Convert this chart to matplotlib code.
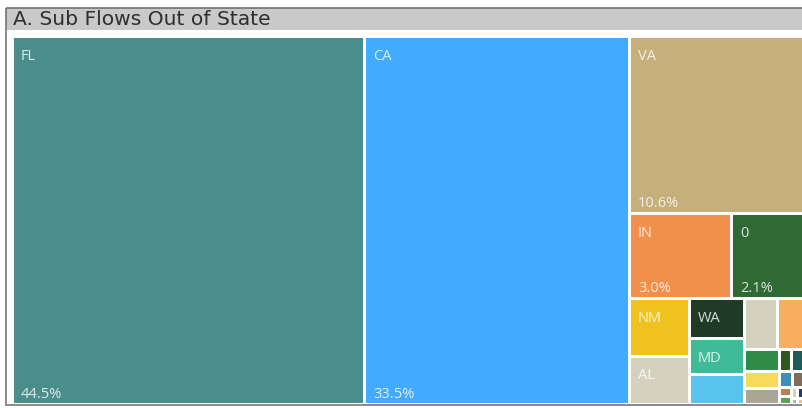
import matplotlib
matplotlib.use("Agg")
import matplotlib.pyplot as plt
from matplotlib.patches import Rectangle

# ---- data (share of sub flows out of state, %) ----
states = ["FL", "CA", "VA", "IN", "0", "NM", "AL", "WA", "MD",
          "", "", "", "", "", "", "", "", "", "",
          "", "", "", "", "", ""]
shares = [44.5, 33.5, 10.6, 3.0, 2.1, 1.18, 1.0, 0.76, 0.68,
          0.58, 0.56, 0.46, 0.27, 0.20, 0.19, 0.09, 0.09, 0.07, 0.06,
          0.035, 0.03, 0.025, 0.02, 0.015, 0.012]
colors = ["#4a8e8c", "#42aaff", "#c5b07b", "#f0904b", "#2f6a35", "#efc21f",
          "#d5d1bf", "#1f3b25", "#40bb97", "#58c4ee", "#d4d1bf", "#f8ae5c",
          "#2e8c47", "#f8da5b", "#aaa596", "#2f5a1f", "#1f5a56", "#3e8dba",
          "#7e6b58", "#b8814f", "#5fa05d", "#c9d8c6", "#2b3c5b", "#9ac0b5",
          "#e0c7a0"]
title = "A. Sub Flows Out of State"

PHI = (1 + 5 ** 0.5) / 2


def squarify(vals, x0, y0, x1, y1, ratio=PHI):
    rects = []
    value = float(sum(vals))
    i0 = i1 = 0
    n = len(vals)
    while i0 < n:
        dx, dy = x1 - x0, y1 - y0
        sumv = vals[i1]
        i1 += 1
        minv = maxv = sumv
        alpha = max(dy / dx, dx / dy) / (value * ratio)
        beta = sumv * sumv * alpha
        minr = max(maxv / beta, beta / minv)
        while i1 < n:
            nv = vals[i1]
            sumv += nv
            minv = min(minv, nv)
            maxv = max(maxv, nv)
            beta = sumv * sumv * alpha
            newr = max(maxv / beta, beta / minv)
            if newr > minr:
                sumv -= nv
                break
            minr = newr
            i1 += 1
        row = vals[i0:i1]
        if dx < dy:
            ny = y0 + dy * sumv / value if value > 0 else y1
            xx = x0
            for v in row:
                w = (x1 - x0) * v / sumv
                rects.append((xx, y0, xx + w, ny))
                xx += w
            y0 = ny
        else:
            nx = x0 + dx * sumv / value if value > 0 else x1
            yy = y0
            for v in row:
                h = (y1 - y0) * v / sumv
                rects.append((x0, yy, nx, yy + h))
                yy += h
            x0 = nx
        value -= sumv
        i0 = i1
    return rects


W, H = 802, 408
fig = plt.figure(figsize=(W / 100, H / 100), dpi=100)
ax = fig.add_axes([0, 0, 1, 1])
ax.set_xlim(0, W)
ax.set_ylim(H, 0)
ax.axis("off")

# frame and header
ax.add_patch(Rectangle((6, 8), W, 22, facecolor="#c9c9c9", edgecolor="none", zorder=1))
ax.add_patch(Rectangle((5.5, 7.5), W + 10, 397.5, facecolor="none",
                       edgecolor="#6a6a6a", linewidth=1.1, zorder=5))
ax.text(13, 19.5, title, fontsize=14.6, family=["DejaVu Sans"],
        color="#2f2f2f", va="center", ha="left", zorder=6)

total = sum(shares)
rects = squarify(shares, 12.5, 36.5, 803.5, 404.5)
pad = 1.5
for (x0, y0, x1, y1), name, val, col in zip(rects, states, shares, colors):
    ax.add_patch(Rectangle((x0 + pad, y0 + pad), x1 - x0 - 2 * pad, y1 - y0 - 2 * pad,
                           facecolor=col, edgecolor="none", zorder=2))
    w, h = x1 - x0, y1 - y0
    if name and w >= 35 and h >= 30:
        ax.text(x0 + 8.5, y0 + 12, name, fontsize=10.5, family=["Open Sans", "DejaVu Sans"],
                color="white", alpha=0.82, va="top", ha="left", zorder=3)
    if name and w >= 40 and h >= 70:
        ax.text(x0 + 8.5, y1 - 6.5, f"{val / total * 100:.1f}%", fontsize=10.5,
                family=["Open Sans", "DejaVu Sans"], color="white", alpha=0.82,
                va="baseline", ha="left", zorder=3)

fig.savefig("out.png", dpi=100)
